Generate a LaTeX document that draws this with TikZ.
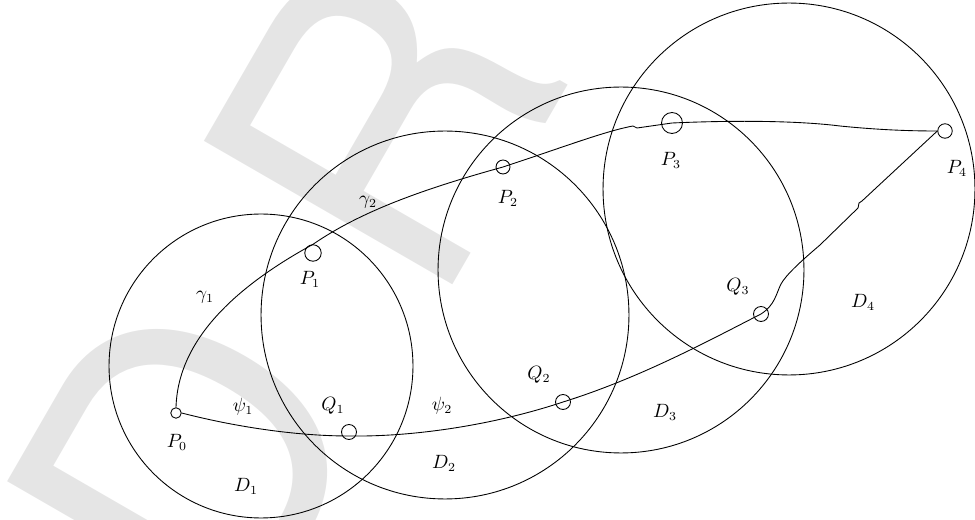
\documentclass[tikz,border=0pt]{standalone}
\usepackage{fontspec}
\newfontfamily\wmfont[LetterSpace=27.4]{TeX Gyre Heros}
\usepackage{tikz}
\usetikzlibrary{positioning}

\begin{document}
\begin{tikzpicture}[
  x=0.02cm, y=-0.02cm,
  line width=0.5pt,
  every node/.style={font=\fontsize{10.5}{12}\selectfont},
  disc/.style={circle, draw, inner sep=0pt},
  pt/.style={circle, draw, inner sep=0pt, minimum size=3mm},
  wmark/.style={text=black!10, inner sep=0pt, font=\wmfont\fontsize{224}{224}\selectfont}
]
\useasboundingbox (0,0) rectangle (975,520);
\clip (0,0) rectangle (975,520);

% Watermark
\node[wmark, rotate=60, anchor=base west] (draft) at (238.5,656) {DRAFT};

% Discs
\node[disc, minimum size=6.08cm] (D1) at (261,366) {};
\node[disc, minimum size=7.36cm] (D2) at (445,315) {};
\node[disc, minimum size=7.32cm] (D3) at (621,270) {};
\node[disc, minimum size=7.44cm] (D4) at (789,189) {};

% Points
\node[pt, minimum size=2.1mm] (P0) at (176,413) {};
\node[pt, minimum size=3.3mm] (P1) at (313,253) {};
\node[pt, minimum size=2.8mm] (P2) at (503,167) {};
\node[pt, minimum size=4.2mm] (P3) at (672,123) {};
\node[pt, minimum size=2.9mm] (P4) at (945,131) {};
\node[pt] (Q1) at (349,432) {};
\node[pt] (Q2) at (563,402) {};
\node[pt] (Q3) at (761,314) {};

% Path gamma
\draw (P0.north) .. controls (178,340) and (235,287) .. (P1.north)
  .. controls (360,212) and (420,190) .. (P2.center)
  .. controls (555,150) and (600,133) .. (628,127) -- (633,126) -- (637,128)
  -- (P3.center) .. controls (740,120) and (800,121) .. (840,126)
  .. controls (880,130) and (910,131) .. (P4.west);

% Path psi
\draw (P0.east) .. controls (240,428) and (300,436) .. ([yshift=-0.8mm]Q1.center)
  .. controls (420,437) and (500,423) .. (Q2.center)
  .. controls (640,378) and (710,340) .. (Q3.center)
  .. controls (775,305) and (776,294) .. (781,284)
  .. controls (786,275) and (800,262) .. (820,245)
  -- (858,208) -- (859,203) -- (862,201) -- (P4.west);

% Labels
\node (lP0) at (177,442) {$P_0$};
\node (lP1) at (310,279) {$P_1$};
\node (lP2) at (508,198) {$P_2$};
\node (lP3) at (671,160) {$P_3$};
\node (lP4) at (957,168) {$P_4$};
\node (lQ1) at (333,406) {$Q_1$};
\node (lQ2) at (539,375) {$Q_2$};
\node (lQ3) at (738,287) {$Q_3$};
\node (lD1) at (246,486) {$D_1$};
\node (lD2) at (444,463) {$D_2$};
\node (lD3) at (665,412) {$D_3$};
\node (lD4) at (863,302) {$D_4$};
\node (lg1) at (205,297) {$\gamma_1$};
\node (lg2) at (368,202) {$\gamma_2$};
\node (lpsi1) at (243,407) {$\psi_1$};
\node (lpsi2) at (442,406) {$\psi_2$};

\end{tikzpicture}
\end{document}
